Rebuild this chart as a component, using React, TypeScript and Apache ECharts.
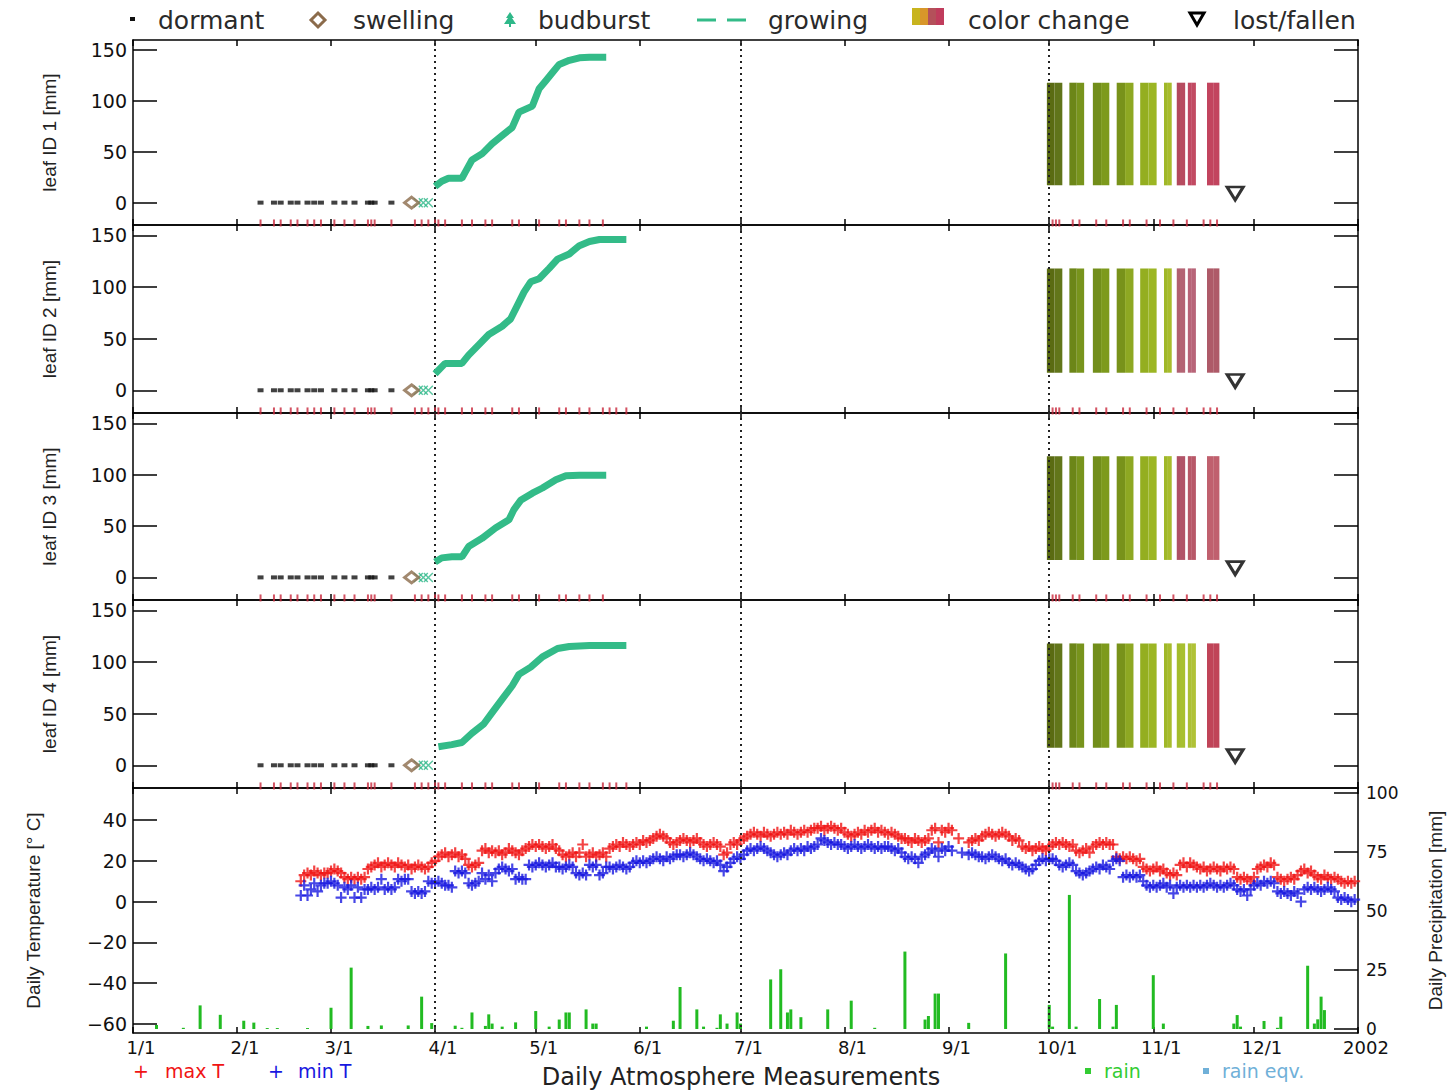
import React, { useEffect, useRef } from 'react';
import * as echarts from 'echarts';

// ---------- axis ticks ----------
const monthTicks = [0, 31, 59, 90, 120, 151, 181, 212, 243, 273, 304, 334, 365];
const monthLabels = ['1/1', '2/1', '3/1', '4/1', '5/1', '6/1', '7/1', '8/1', '9/1', '10/1', '11/1', '12/1', '2002'];
const seasonMarks = [90, 181, 273];
const leafTicks = [0, 50, 100, 150];
const tempTicks = [-60, -40, -20, 0, 20, 40];
const rainTicks = [0, 25, 50, 75, 100];
const leafNames = ['leaf ID 1 [mm]', 'leaf ID 2 [mm]', 'leaf ID 3 [mm]', 'leaf ID 4 [mm]'];

// ---------- phenology ----------
const dormantDays = [38, 42, 44, 47, 49, 52, 54, 56, 60, 63, 66, 70, 71, 72, 77];
const swellingDays = [83];
const budburstDays = [85, 86.5, 88];
const springObsShort = [38, 42, 44, 47, 49, 52, 54, 56, 60, 63, 66, 70, 71, 72, 77, 84, 86, 88, 90, 91, 93, 98, 101, 105, 107, 113, 115, 121, 127, 129, 133, 136, 140];
const springObsLong = [...springObsShort, 142, 144, 147];
const autumnObs = [274, 275, 276, 280, 282, 287, 290, 295, 297, 302, 306, 310, 314, 319, 321, 323];

const growth1 = [[90, 16], [92, 21], [94, 24], [98, 24], [99, 30], [101, 42], [104, 48], [107, 58], [110, 66], [113, 74], [115, 89], [117, 92], [119, 95], [121, 112], [123, 120], [125, 128], [127, 136], [130, 140], [133, 142.5], [136, 143], [141, 143]];
const growth2 = [[90, 16], [93, 26], [98, 26], [100, 34], [103, 44], [106, 54], [110, 62], [112.5, 69], [114.5, 82], [116.5, 95], [118.5, 105], [121, 108], [124, 118], [126.5, 127], [130, 132], [133, 140], [136, 144], [139, 146], [147, 146]];
const growth3 = [[90, 15], [92, 19], [95, 20], [98, 20], [100, 30], [104, 38], [108, 48], [112, 56], [113.5, 66], [115.5, 75], [119, 82], [122, 87], [126, 95], [129, 99], [133, 99.5], [141, 99.5]];
const growth4 = [[91, 18], [95, 20], [98, 22], [101, 31], [104.5, 40], [107, 51], [110, 64], [113, 77], [115, 88], [118.5, 95], [122, 105], [126.5, 113], [130, 115], [136, 116], [147, 116]];

const colorBarDays = [[272.3, 276.9], [279, 283.4], [286, 290.9], [293.1, 298.1], [300.1, 305], [307.2, 309.5], [311, 313.5], [314.3, 316.7], [320, 323.7]];
const colorBarRange = [17, 118];
const barColors1 = [['#5a6b12', '#60741a'], ['#6c8618', '#78941c'], ['#728e1a', '#7d9a1c'], ['#78921a', '#8ea822'], ['#94ae20', '#9cb624'], ['#a0b828', '#a8bc2c'], ['#b2485c', '#b84c60'], ['#c04862', '#c24a62'], ['#c2445e', '#c2445e']];
const barColors2 = [['#5a6b12', '#62761a'], ['#6c8618', '#78941c'], ['#728e1a', '#7d9a1c'], ['#78921a', '#8ea822'], ['#94ae20', '#9cb624'], ['#a0b828', '#a8bc2c'], ['#b06070', '#b46474'], ['#b86478', '#b86478'], ['#ae5a68', '#ae5a68']];
const barColors3 = [['#5a6b12', '#62761a'], ['#6c8618', '#78941c'], ['#728e1a', '#7d9a1c'], ['#78921a', '#8ea822'], ['#94ae20', '#9cb624'], ['#a0b828', '#a8bc2c'], ['#ae5064', '#b25468'], ['#b85868', '#b85868'], ['#c0606e', '#c0606e']];
const barColors4 = [['#5a6b12', '#62761a'], ['#6c8618', '#78941c'], ['#728e1a', '#7d9a1c'], ['#78921a', '#8ea822'], ['#94ae20', '#9cb624'], ['#a0b828', '#a8bc2c'], ['#a4bc2c', '#a8c030'], ['#acc034', '#b0c236'], ['#c04458', '#c04458']];
const lostDay = 328.4;
const lostValue = 9;

// ---------- daily atmosphere ----------
const tempStartDay = 50;
const maxT = [10,
  13, 14, 13, 15, 14, 13, 14,
  14, 15, 16, 15, 14,
  12, 11, 12, 11, 12, 11, 12,
  16, 17, 18, 19, 17, 18, 19, 18, 17, 19, 18, 17, 18,
  16, 17, 18, 17, 16, 17, 19,
  20, 22, 23, 24, 22, 23, 24, 22, 23, 21,
  18, 17, 18, 19,
  25, 26, 24, 25,
  24, 25, 23, 24, 26, 25, 24, 23, 25,
  26, 27, 28, 27, 28, 27, 26, 27, 28, 26, 25,
  23, 22, 23, 24, 22, 24,
  28,
  22, 23, 24, 22, 23, 24, 22,
  26, 27, 28, 27, 29, 28, 27, 28, 29, 28, 30, 29, 30,
  31, 32, 33, 32, 31,
  29, 28, 29,
  30, 31, 30, 29, 30, 31, 29,
  28, 27, 28, 29, 28, 27,
  23, 24,
  28, 29, 28, 30, 31,
  32, 33, 34, 33, 32, 34, 33, 32, 33, 34,
  33, 34, 33, 35, 34, 33, 34, 35, 34, 35,
  36, 36, 37, 35, 36, 37, 36, 35, 36,
  34, 33, 32, 33, 34, 33,
  35, 34, 35, 36, 34, 35, 34,
  33, 34, 33, 32, 31,
  31, 30, 29, 31, 30, 29, 30, 31,
  35, 36, 29, 35, 34, 36, 35,
  null, 31, null, null,
  29, 30, 31, 30,
  32, 33, 34, 33, 32, 33, 34, 33, 32,
  30, 31, 30,
  27, 26, 27, 25, 26, 27, 26, 25, 27,
  28, 29, 28, 29, 28, 27, 28,
  25, 24, 25, 26, 24,
  27, 28, 29, 28, 29, 28, 28,
  22, 21, 22, 21, 22, 21, 20, 21,
  17, 16, 15, 16, 17, 15, 16,
  14, 13, 14, 13,
  18, 19, 17, 19, 18, 17,
  16, 17, 15, 16, 17, 16, 15, 17, 16, 17, 16,
  12, 11, 12, 11, 10, 12,
  16, 17, 18, 17, 19, 18,
  12, 11, 10, 11, 12, 11, 13,
  15, 16, 14, 15, 13,
  12, 11, 13, 12, 11, 12, 11,
  10, 9, 10, 9, 10];
const minT = [3,
  8, 3, 6, 9, 5, 8, 9,
  9, 10, 9, 8, 2,
  7, 6, 8, 2, 7, 2, 6,
  6, 7, 6, 7, 11, 6, 7, 6, 7, 11, 10, 11, 11,
  5, 4, 5, 4, 5, 10, 9,
  9, 10, 9, 8, 8, 7, 15, 14, 15, 14,
  9, 8, 9, 10,
  14, 11, 13, 10,
  14, 16, 17, 16, 15, 16, 11, 12, 11,
  11, 18, 17, 18, 19, 18, 17, 18, 19, 17, 17,
  16, 17, 18, 17, 14, 13,
  14,
  13, 18, 17, 18, 13, 14, 17,
  17, 16, 17, 18, 17, 16, 17, 19, 20, 19, 20, 19, 20,
  21, 22, 21, 20, 22,
  21, 22, 23,
  23, 22, 23, 24, 23, 22, 21,
  20, 21, 20, 19, 20, 18,
  15, 17,
  19, 21, 22, 21, 23,
  25, 26, 25, 26, 27, 26, 25, 24, 23, 22,
  23, 24, 23, 25, 26, 25, 26, 25, 27, 26,
  27, 28, 31, 30, 29, 28, 29, 28, 28,
  27, 26, 27, 28, 27, 26,
  27, 28, 27, 26, 27, 26, 27,
  27, 26, 25, 26, 24,
  22, 21, 22, 21, 19, 22, 23, 24,
  26, 25, 22, 26, 25, 27, 25,
  null, null, 24, null,
  23, 24, 23, 22,
  22, 21, 22, 23, 22, 21, 20, 21, 19,
  18, 19, 18,
  17, 16, 15, 16, 18, 20, 21, 20, 21,
  21, 20, 18, 17, 18, 19, 18,
  15, 14, 13, 14, 15,
  16, 17, 16, 18, 17, 16, 20,
  21, 20, 12, 13, 12, 13, 12, 13,
  10, 8, 7, 8, 7, 8, 9,
  7, 8, 4, 7,
  8, 7, 8, 7, 8, 7,
  8, 7, 8, 9, 8, 7, 8, 7, 8, 9, 8,
  6, 5, 6, 3, 6, 8,
  9, 8, 10, 9, 10, 9,
  5, 4, 5, 4, 3, 5, 4,
  0, 6, 7, 6, 7,
  6, 5, 6, 7, 6, 5, 2,
  1, 2, 1, 0, 1];
const rainDays = [7, 15, 20, 26, 33, 36, 40, 43, 52, 59, 65, 70, 74, 82, 86, 89, 96, 98, 101, 105, 106, 107, 110, 114, 120, 124, 127, 129, 130, 135, 137, 138, 153, 161, 163, 168, 170, 174, 175, 177, 180, 181, 190, 193, 195, 196, 199, 207, 214, 221, 230, 236, 237, 239, 240, 249, 260, 273, 274, 279, 281, 288, 292, 293, 304, 307, 328, 329, 330, 337, 341, 342, 350, 352, 353, 354, 355];
const rainValues = [1.7, 0.5, 10, 6, 3.5, 2.7, 0.4, 0.4, 0.4, 9, 26, 1.3, 1.5, 1.5, 13.7, 2.5, 1.4, 0.5, 7, 1.3, 6.2, 2.3, 1, 2.8, 7.6, 1, 4, 7, 7, 8.3, 2.3, 2.3, 1, 3.5, 17.8, 8.3, 1, 0.5, 6.2, 2.3, 7, 2.3, 21, 25.3, 7, 8.3, 5, 8.3, 12, 0.5, 32.8, 4, 5.5, 15, 15, 2.6, 32, 10.2, 1, 56.8, 1, 12.7, 1, 10.2, 22.8, 2.3, 2.3, 5.9, 1, 3.4, 0.5, 5.2, 26.8, 2.3, 4.1, 13.7, 8];

// ---------- styling ----------
const FONT = 'DejaVu Sans';
const AX = { color: '#000', width: 1.5 };
const plusPath = 'path://M4,0H6V4H10V6H6V10H4V6H0V4H4Z';
const crossPath = 'path://M1,0L5,4L9,0L10,1L6,5L10,9L9,10L5,6L1,10L0,9L4,5L0,1Z';
const gridTops = [40, 225, 413, 600, 788];
const gridHeights = [185, 188, 187, 188, 245];

function buildOption() {
  const grids = gridTops.map((t, i) => ({ left: 133, right: 95, top: t, height: gridHeights[i], containLabel: false }));
  const xAxes: any[] = [];
  const yAxes: any[] = [];
  for (let g = 0; g < 5; g++) {
    const base = {
      gridIndex: g, type: 'value', min: 0, max: 365,
      axisLine: { show: true, onZero: false, lineStyle: AX },
      splitLine: { show: false },
    };
    xAxes.push({
      ...base, position: 'bottom',
      axisTick: { show: true, inside: true, length: 6, lineStyle: AX, customValues: monthTicks },
      axisLabel: {
        show: g === 4, customValues: monthTicks, margin: 5, padding: [0, 0, 0, 16],
        color: '#111', fontFamily: FONT, fontSize: 18, lineHeight: 18,
        formatter: (v: number) => monthLabels[monthTicks.indexOf(v)] ?? '',
      },
    });
    xAxes.push({
      ...base, position: 'top',
      axisTick: { show: true, inside: true, length: 6, lineStyle: AX, customValues: monthTicks },
      axisLabel: { show: false, customValues: monthTicks },
    });
  }
  for (let g = 0; g < 4; g++) {
    yAxes.push({
      gridIndex: g, type: 'value', min: -22, max: 160, position: 'left',
      axisLine: { show: true, onZero: false, lineStyle: AX },
      axisTick: { show: true, inside: true, length: 24, lineStyle: AX, customValues: leafTicks },
      axisLabel: { show: true, customValues: leafTicks, margin: 6, color: '#111', fontFamily: FONT, fontSize: 19 },
      splitLine: { show: false },
      name: leafNames[g], nameLocation: 'middle', nameRotate: 90, nameGap: 74,
      nameTextStyle: { fontFamily: 'Liberation Sans', fontSize: 19, color: '#222' },
    });
    yAxes.push({
      gridIndex: g, type: 'value', min: -22, max: 160, position: 'right',
      axisLine: { show: true, onZero: false, lineStyle: AX },
      axisTick: { show: true, inside: true, length: 24, lineStyle: AX, customValues: leafTicks },
      axisLabel: { show: false, customValues: leafTicks },
      splitLine: { show: false },
    });
  }
  yAxes.push({
    gridIndex: 4, type: 'value', min: -64.4, max: 55.7, position: 'left',
    axisLine: { show: true, onZero: false, lineStyle: AX },
    axisTick: { show: true, inside: true, length: 24, lineStyle: AX, customValues: tempTicks },
    axisLabel: {
      show: true, customValues: tempTicks, margin: 6, color: '#111', fontFamily: FONT, fontSize: 19,
      formatter: (v: number) => (v < 0 ? '\u2212' + Math.abs(v) : String(v)),
    },
    splitLine: { show: false },
    name: 'Daily Temperature [\u00b0 C]', nameLocation: 'middle', nameRotate: 90, nameGap: 90,
    nameTextStyle: { fontFamily: 'Liberation Sans', fontSize: 19, color: '#222' },
  });
  yAxes.push({
    gridIndex: 4, type: 'value', min: -1.7, max: 102.1, position: 'right',
    axisLine: { show: true, onZero: false, lineStyle: AX },
    axisTick: { show: true, inside: true, length: 24, lineStyle: AX, customValues: rainTicks },
    axisLabel: { show: true, customValues: rainTicks, margin: 8, color: '#111', fontFamily: FONT, fontSize: 17 },
    splitLine: { show: false },
    name: 'Daily Precipitation [mm]', nameLocation: 'middle', nameRotate: 90, nameGap: 68,
    nameTextStyle: { fontFamily: 'Liberation Sans', fontSize: 19, color: '#222' },
  });

  const markLine = {
    silent: true, symbol: ['none', 'none'], label: { show: false },
    lineStyle: { type: [2, 4], width: 2, color: '#222' },
    data: seasonMarks.map((d) => ({ xAxis: d })),
  };

  const panels = [
    { growth: growth1, obs: springObsShort, colors: barColors1 },
    { growth: growth2, obs: springObsLong, colors: barColors2 },
    { growth: growth3, obs: springObsShort, colors: barColors3 },
    { growth: growth4, obs: springObsLong, colors: barColors4 },
  ];

  const series: any[] = [];
  panels.forEach((p, g) => {
    const ax = { xAxisIndex: 2 * g, yAxisIndex: 2 * g };
    const palette = p.colors.flat();
    const barRows: number[][] = [];
    colorBarDays.forEach(([s, e], k) => {
      const m = (s + e) / 2;
      barRows.push([s, m, colorBarRange[0], colorBarRange[1], 2 * k]);
      barRows.push([m, e, colorBarRange[0], colorBarRange[1], 2 * k + 1]);
    });
    series.push({
      type: 'custom', ...ax, z: 2,
      encode: { x: [0, 1], y: [2, 3] },
      data: barRows,
      renderItem: (params: any, api: any) => {
        const p0 = api.coord([api.value(0), api.value(3)]);
        const p1 = api.coord([api.value(1), api.value(2)]);
        return {
          type: 'rect',
          shape: { x: p0[0], y: p0[1], width: p1[0] - p0[0], height: p1[1] - p0[1] },
          style: { fill: palette[api.value(4)] },
        };
      },
    });
    series.push({
      type: 'scatter', ...ax, symbol: 'rect', symbolSize: [2, 7], z: 3,
      itemStyle: { color: '#c8283c' },
      data: [...p.obs, ...autumnObs].map((d) => [d, -20]),
    });
    series.push({
      type: 'scatter', ...ax, symbol: 'rect', symbolSize: [6, 4], z: 4,
      itemStyle: { color: '#111' },
      data: dormantDays.map((d) => [d, 0]),
    });
    series.push({
      type: 'line', ...ax, z: 5, showSymbol: false,
      lineStyle: { color: '#33bb88', width: 7 },
      data: p.growth,
      markLine,
    });
    series.push({
      type: 'scatter', ...ax, symbol: crossPath, symbolSize: 10, z: 6,
      itemStyle: { color: '#2fb889' },
      data: budburstDays.map((d) => [d, 0]),
    });
    series.push({
      type: 'scatter', ...ax, symbol: 'diamond', symbolSize: [14, 11], z: 6,
      itemStyle: { color: '#ffffff', borderColor: '#8b6b4b', borderWidth: 3 },
      data: swellingDays.map((d) => [d, 0]),
    });
    series.push({
      type: 'scatter', ...ax, symbol: 'triangle', symbolRotate: 180, symbolSize: [16, 13], z: 6,
      itemStyle: { color: '#ffffff', borderColor: '#000', borderWidth: 3 },
      data: [[lostDay, lostValue]],
    });
  });

  series.push({
    type: 'bar', xAxisIndex: 8, yAxisIndex: 9, barWidth: 3, z: 2,
    itemStyle: { color: '#22bb22' },
    data: rainDays.map((d, i) => [d, rainValues[i]]),
  });
  series.push({
    type: 'scatter', xAxisIndex: 8, yAxisIndex: 8, symbol: plusPath, symbolSize: 11, z: 4,
    itemStyle: { color: '#f01414' },
    data: maxT.map((v, i) => (v == null ? null : [tempStartDay + i, v])).filter(Boolean),
    markLine,
  });
  series.push({
    type: 'scatter', xAxisIndex: 8, yAxisIndex: 8, symbol: plusPath, symbolSize: 11, z: 4,
    itemStyle: { color: '#1818e0' },
    data: minT.map((v, i) => (v == null ? null : [tempStartDay + i, v])).filter(Boolean),
  });

  const legendFont = `25px "${FONT}"`;
  const smallFont = `19px "${FONT}"`;
  const txt = (text: string, x: number, y: number, fill: string, font: string, align = 'left') => ({
    type: 'text', x, y, silent: true,
    style: { text, fill, font, align, verticalAlign: 'middle' },
  });
  const stripeColors = ['#c8b41e', '#d8962a', '#b4505a', '#c03c5c'];
  const graphic: any[] = [
    { type: 'rect', shape: { x: 130, y: 17, width: 5, height: 4 }, style: { fill: '#111' } },
    txt('dormant', 158, 20, '#2a2a2a', legendFont),
    { type: 'polygon', shape: { points: [[318, 13], [325, 20], [318, 27], [311, 20]] }, style: { fill: '#fff', stroke: '#8b6b4b', lineWidth: 3 } },
    txt('swelling', 353, 20, '#2a2a2a', legendFont),
    { type: 'polygon', shape: { points: [[510, 12], [514, 18], [512, 18], [516, 24], [511, 24], [511, 27], [509, 27], [509, 24], [504, 24], [508, 18], [506, 18]] }, style: { fill: '#2fb889' } },
    txt('budburst', 538, 20, '#2a2a2a', legendFont),
    { type: 'line', shape: { x1: 697, y1: 20, x2: 716, y2: 20 }, style: { stroke: '#33bb88', lineWidth: 3 } },
    { type: 'line', shape: { x1: 727, y1: 20, x2: 746, y2: 20 }, style: { stroke: '#33bb88', lineWidth: 3 } },
    txt('growing', 768, 20, '#2a2a2a', legendFont),
    ...stripeColors.map((c, i) => ({ type: 'rect', shape: { x: 912 + i * 8, y: 8, width: 8, height: 17 }, style: { fill: c } })),
    txt('color change', 968, 20, '#2a2a2a', legendFont),
    { type: 'polygon', shape: { points: [[1190, 13], [1204, 13], [1197, 25]] }, style: { fill: '#fff', stroke: '#000', lineWidth: 3 } },
    txt('lost/fallen', 1233, 20, '#2a2a2a', legendFont),
    txt('+', 133, 1071, '#f01414', smallFont),
    txt('max T', 165, 1071, '#f01414', smallFont),
    txt('+', 268, 1071, '#1818e0', smallFont),
    txt('min T', 298, 1071, '#1818e0', smallFont),
    txt('Daily Atmosphere Measurements', 741, 1077, '#222', `24px "${FONT}"`, 'center'),
    { type: 'rect', shape: { x: 1085, y: 1068, width: 6, height: 6 }, style: { fill: '#33cc33' } },
    txt('rain', 1104, 1071, '#33cc33', smallFont),
    { type: 'rect', shape: { x: 1203, y: 1068, width: 6, height: 6 }, style: { fill: '#70b0d8' } },
    txt('rain eqv.', 1222, 1071, '#70b0d8', smallFont),
  ];

  return {
    animation: false,
    backgroundColor: '#ffffff',
    textStyle: { fontFamily: FONT },
    grid: grids,
    xAxis: xAxes,
    yAxis: yAxes,
    series,
    graphic,
  };
}

export default function App() {
  const ref = useRef<HTMLDivElement>(null);
  useEffect(() => {
    const chart = echarts.init(ref.current!, null, { renderer: 'svg' });
    chart.setOption(buildOption() as any);
    return () => chart.dispose();
  }, []);
  return (
    <div
      ref={ref}
      style={{ position: 'absolute', left: 0, top: 0, width: 1453, height: 1090, background: '#fff' }}
    />
  );
}
